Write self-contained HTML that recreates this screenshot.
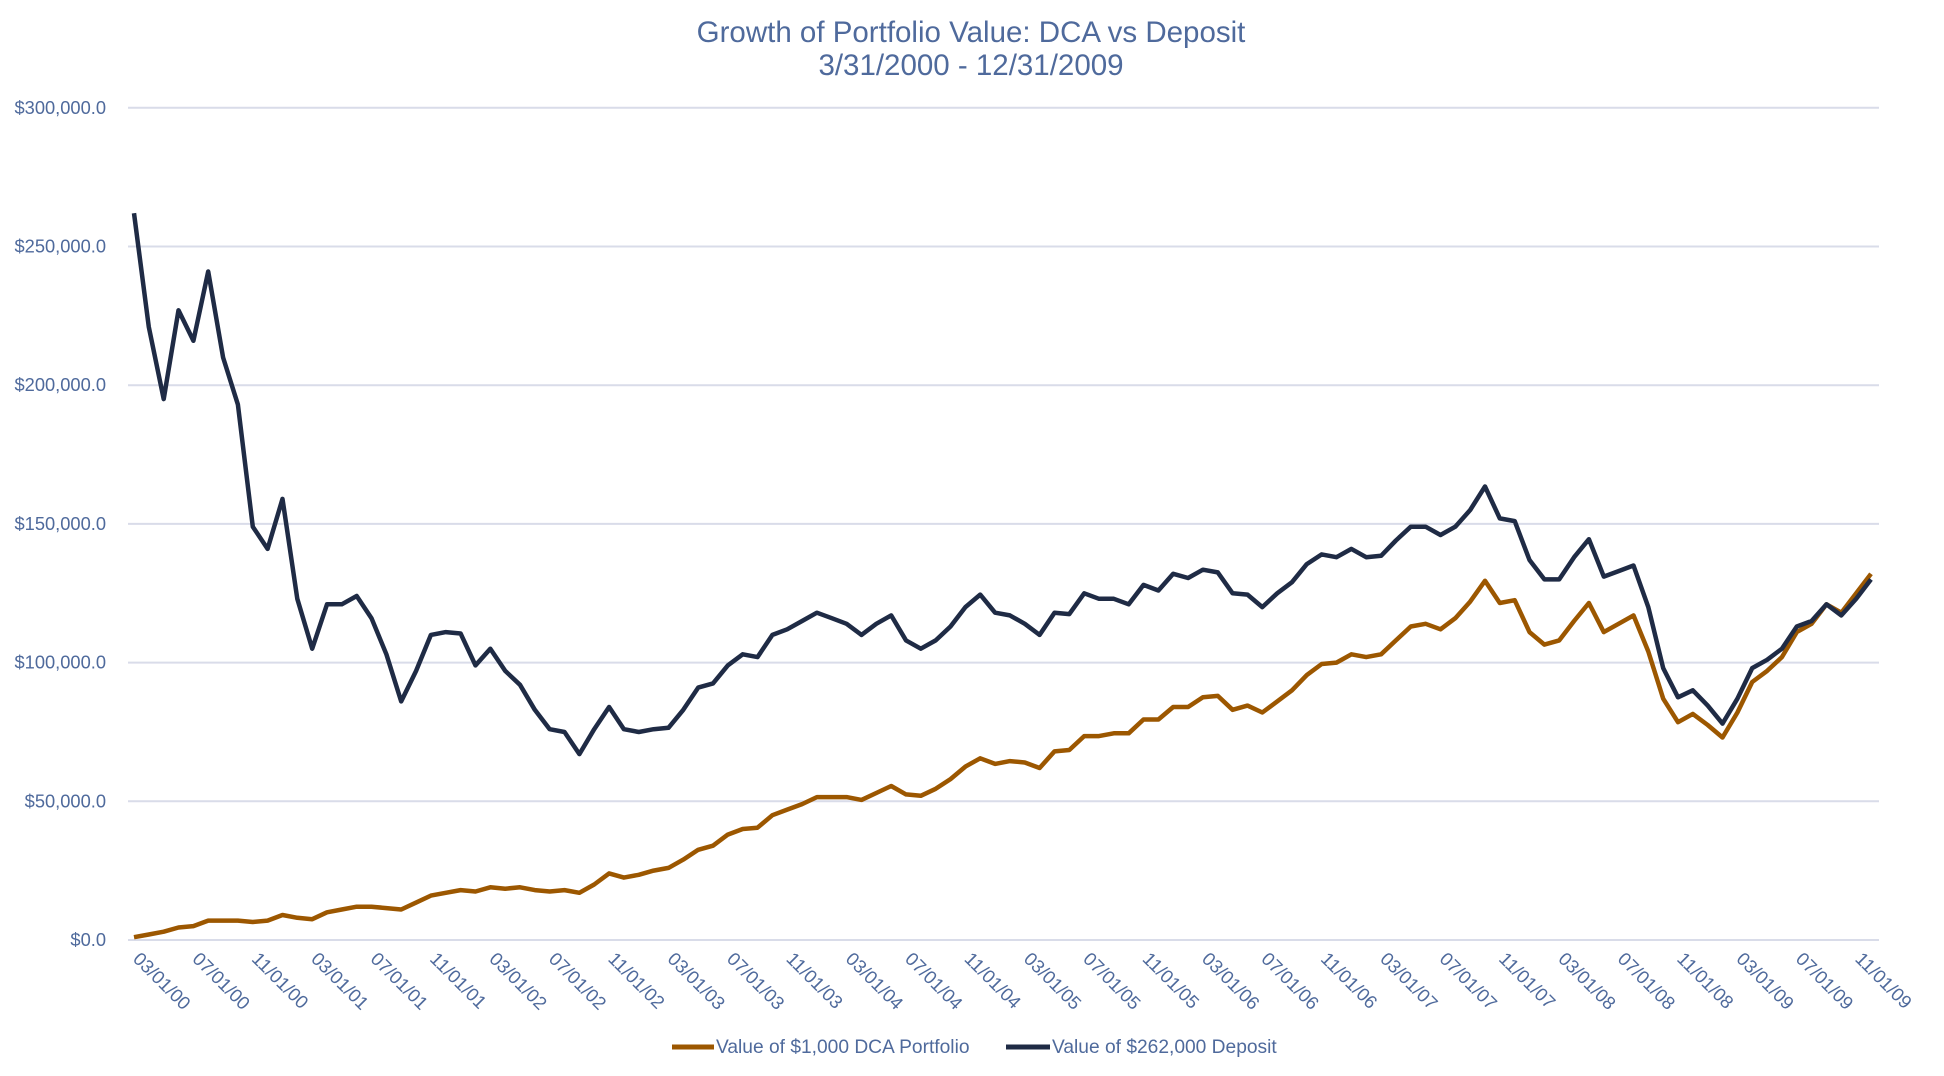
<!DOCTYPE html>
<html><head><meta charset="utf-8"><style>
html,body{margin:0;padding:0;background:#fff;}
svg{display:block;font-family:"Liberation Sans",sans-serif;}
</style></head><body>
<svg id="c" width="1944" height="1076" viewBox="0 0 1944 1076" xmlns="http://www.w3.org/2000/svg">
<text x="971" y="42" text-anchor="middle" font-size="29.5" fill="#4f6a9c">Growth of Portfolio Value: DCA vs Deposit</text>
<text x="971" y="75" text-anchor="middle" font-size="29.5" fill="#4f6a9c">3/31/2000 - 12/31/2009</text>
<g id="grid"></g>
<g id="lines"></g>
<g id="xl"></g>
<line x1="672" y1="1047" x2="714" y2="1047" stroke="#9c5700" stroke-width="5"/>
<text x="716" y="1053" font-size="19.2" fill="#4f6a9c">Value of $1,000 DCA Portfolio</text>
<line x1="1006" y1="1047" x2="1050" y2="1047" stroke="#1f2b45" stroke-width="5"/>
<text x="1052" y="1053" font-size="19.2" fill="#4f6a9c">Value of $262,000 Deposit</text>
</svg>
<script>
var NS="http://www.w3.org/2000/svg";
function el(t,a,p,txt){var e=document.createElementNS(NS,t);for(var k in a)e.setAttribute(k,a[k]);if(txt!=null)e.textContent=txt;p.appendChild(e);return e;}
var y0=940,step=138.7,x0=134,x1=1871;
function Y(v){return y0-v/50*step;}
var g=document.getElementById('grid');
for(var i=0;i<=6;i++){var y=Y(i*50);
el('line',{x1:128,x2:1879,y1:y,y2:y,stroke:"#d9dce9","stroke-width":2},g);
el('text',{x:106,y:y+6,"text-anchor":"end","font-size":18.3,fill:"#4f6a9c"},g,"$"+(i*50000).toLocaleString('en-US')+".0");}
var dep=[262,221,195,227,216,241,210,193,149,141,159,123,105,121,121,124,116,103,86,97,110,111,110.5,99,105,97,92,83,76,75,67,76,84,76,75,76,76.5,83,91,92.5,99,103,102,110,112,115,118,116,114,110,114,117,108,105,108,113,120,124.5,118,117,114,110,118,117.5,125,123,123,121,128,126,132,130.5,133.5,132.5,125,124.5,120,125,129,135.5,139,138,141,138,138.5,144,149,149,146,149,155,163.5,152,151,137,130,130,138,144.5,131,133,135,120,98,87.5,90,84.5,78,87,98,101,105,113,115,121,117,123,130];
var dca=[1,2,3,4.5,5,7,7,7,6.5,7,9,8,7.5,10,11,12,12,11.5,11,13.5,16,17,18,17.5,19,18.5,19,18,17.5,18,17,20,24,22.5,23.5,25,26,29,32.5,34,38,40,40.5,45,47,49,51.5,51.5,51.5,50.5,53,55.5,52.5,52,54.5,58,62.5,65.5,63.5,64.5,64,62,68,68.5,73.5,73.5,74.5,74.5,79.5,79.5,84,84,87.5,88,83,84.5,82,86,90,95.5,99.5,100,103,102,103,108,113,114,112,116,122,129.5,121.5,122.5,111,106.5,108,115,121.5,111,114,117,104,87,78.5,81.5,77.5,73,82,93,97,102,111,114,121,118,125,132];
function pts(a){var n=a.length,s=[];for(var i=0;i<n;i++)s.push((x0+(x1-x0)*i/(n-1)).toFixed(1)+","+Y(a[i]).toFixed(1));return s.join(" ");}
var L=document.getElementById('lines');
el('polyline',{points:pts(dca),fill:"none",stroke:"#9c5700","stroke-width":4.5,"stroke-linejoin":"round"},L);
el('polyline',{points:pts(dep),fill:"none",stroke:"#1f2b45","stroke-width":4.5,"stroke-linejoin":"round"},L);
var X=document.getElementById('xl');
var dx=(x1-x0)/117;
for(var k=0;k<=29;k++){var i=k*4;var m=3+i;var yr=2000+Math.floor((m-1)/12);var mm=((m-1)%12)+1;
var lab=(mm<10?"0":"")+mm+"/01/"+String(yr).slice(2);
var x=x0+i*dx-2,y=960;
el('text',{x:x,y:y,"font-size":18.5,fill:"#4f6a9c",transform:"rotate(45 "+x+" "+y+")"},X,lab);}
</script>
</body></html>
